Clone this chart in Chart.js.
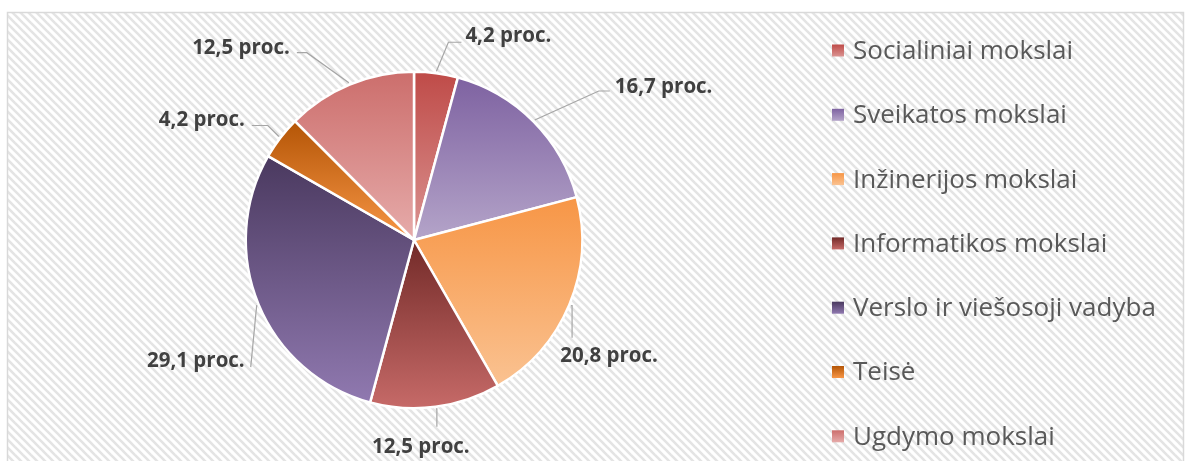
<!DOCTYPE html>
<html>
<head>
<meta charset="utf-8">
<script src="https://cdn.jsdelivr.net/npm/chart.js@4.4.1/dist/chart.umd.min.js"></script>
<style>
  body { margin: 0; background: #fff; }
  canvas { display: block; }
</style>
</head>
<body>
<canvas id="myChart" width="1189" height="461"></canvas>
<script>
// data
const categories = [
  'Socialiniai mokslai',
  'Sveikatos mokslai',
  'Inžinerijos mokslai',
  'Informatikos mokslai',
  'Verslo ir viešosoji vadyba',
  'Teisė',
  'Ugdymo mokslai'
];
const shares = [4.2, 16.7, 20.8, 12.5, 29.1, 4.2, 12.5];

// colours (top of slice -> bottom of slice)
const topColors = ['#bf4b48', '#7e62a1', '#f79646', '#722a28', '#4a395f', '#b45506', '#cc6e6c'];
const bottomColors = ['#da9391', '#b4a4c9', '#fac291', '#c66a68', '#9079b0', '#f79646', '#e6abaa'];

// leader line layout per slice, relative to the slice's outer mid point
const leaders = [
  { elbow: [12, -29], end: [25, -29], align: 'left', tx: 4, ty: -6 },
  { elbow: [64, -29], end: [75, -29], align: 'left', tx: 5, ty: -4 },
  { elbow: [1, 0], end: [1, 32], align: 'center', tx: 37, ty: 19 },
  { elbow: [1, 0], end: [1, 18], align: 'center', tx: -16, ty: 20 },
  { elbow: [-6, 62], end: [-6, 62], align: 'right', tx: -6, ty: -6 },
  { elbow: [-11, -11], end: [-27, -11], align: 'right', tx: -7, ty: -5 },
  { elbow: [-42, -30], end: [-52, -30], align: 'right', tx: -7, ty: -5 }
];

const fmt = v => v.toFixed(1).replace('.', ',') + ' proc.';

// background: white with diagonal stripes and a thin frame
const tile = document.createElement('canvas');
tile.width = 8; tile.height = 8;
const tctx = tile.getContext('2d');
tctx.fillStyle = '#ffffff';
tctx.fillRect(0, 0, 8, 8);
tctx.strokeStyle = '#e4e4e4';
tctx.lineWidth = 2.6;
[-8, 0, 8].forEach(o => {
  tctx.beginPath();
  tctx.moveTo(o - 1, -1);
  tctx.lineTo(o + 9, 9);
  tctx.stroke();
});

const backdrop = {
  id: 'backdrop',
  beforeDraw(chart) {
    const ctx = chart.ctx;
    ctx.save();
    ctx.fillStyle = '#ffffff';
    ctx.fillRect(0, 0, chart.width, chart.height);
    ctx.fillStyle = ctx.createPattern(tile, 'repeat');
    ctx.fillRect(8, 13, 1175, 460);
    ctx.strokeStyle = '#d9d9d9';
    ctx.lineWidth = 1.5;
    ctx.strokeRect(7.5, 12.5, 1176, 470);
    ctx.restore();
  }
};

// vertical gradient per slice, from its bounding box
function arcBounds(el) {
  const p = el.getProps(['x', 'y', 'startAngle', 'endAngle', 'outerRadius']);
  const ys = [p.y, p.y + Math.sin(p.startAngle) * p.outerRadius, p.y + Math.sin(p.endAngle) * p.outerRadius];
  [Math.PI / 2, -Math.PI / 2, 3 * Math.PI / 2, 5 * Math.PI / 2].forEach(a => {
    if (a > p.startAngle && a < p.endAngle) ys.push(p.y + Math.sin(a) * p.outerRadius);
  });
  return [Math.min(...ys), Math.max(...ys)];
}

const sliceGradients = {
  id: 'sliceGradients',
  beforeDatasetsDraw(chart) {
    const ctx = chart.ctx;
    chart.getDatasetMeta(0).data.forEach((el, i) => {
      const [y0, y1] = arcBounds(el);
      const g = ctx.createLinearGradient(0, y0, 0, y1);
      g.addColorStop(0, topColors[i]);
      g.addColorStop(1, bottomColors[i]);
      el.options = Object.assign({}, el.options, { backgroundColor: g });
    });
  }
};

// value labels with leader lines
const valueLabels = {
  id: 'valueLabels',
  afterDatasetsDraw(chart) {
    const ctx = chart.ctx;
    ctx.save();
    chart.getDatasetMeta(0).data.forEach((el, i) => {
      const p = el.getProps(['x', 'y', 'startAngle', 'endAngle', 'outerRadius']);
      const mid = (p.startAngle + p.endAngle) / 2;
      const ax = p.x + Math.cos(mid) * (p.outerRadius + 2);
      const ay = p.y + Math.sin(mid) * (p.outerRadius + 2);
      const L = leaders[i];
      ctx.strokeStyle = '#a6a6a6';
      ctx.lineWidth = 1.2;
      ctx.beginPath();
      ctx.moveTo(ax, ay);
      ctx.lineTo(ax + L.elbow[0], ay + L.elbow[1]);
      ctx.lineTo(ax + L.end[0], ay + L.end[1]);
      ctx.stroke();
      ctx.fillStyle = '#404040';
      ctx.font = 'bold 20.5px "Open Sans"';
      ctx.textAlign = L.align;
      ctx.textBaseline = 'middle';
      ctx.fillText(fmt(shares[i]), ax + L.end[0] + L.tx, ay + L.end[1] + L.ty);
    });
    ctx.restore();
  }
};

// legend on the right
const sideLegend = {
  id: 'sideLegend',
  afterDraw(chart) {
    const ctx = chart.ctx;
    ctx.save();
    categories.forEach((name, i) => {
      const y = 50.5 + i * 64.3;
      const g = ctx.createLinearGradient(0, y - 6, 0, y + 6);
      g.addColorStop(0, topColors[i]);
      g.addColorStop(1, bottomColors[i]);
      ctx.fillStyle = g;
      ctx.fillRect(832, y - 6, 12, 12);
      ctx.fillStyle = '#595959';
      ctx.font = '26px "Open Sans"';
      ctx.textAlign = 'left';
      ctx.textBaseline = 'middle';
      ctx.fillText(name, 853, y + 1);
    });
    ctx.restore();
  }
};

const data = {
  labels: categories,
  datasets: [{
    data: shares,
    backgroundColor: topColors,
    borderColor: '#ffffff',
    borderWidth: 2.5
  }]
};

const config = {
  type: 'pie',
  data,
  options: {
    responsive: false,
    animation: false,
    events: [],
    layout: { padding: { left: 244.5, top: 70.5, right: 605.5, bottom: 51.5 } },
    plugins: {
      legend: { display: false },
      tooltip: { enabled: false }
    }
  },
  plugins: [backdrop, sliceGradients, valueLabels, sideLegend]
};

const myChart = new Chart(document.getElementById('myChart'), config);
</script>
</body>
</html>
